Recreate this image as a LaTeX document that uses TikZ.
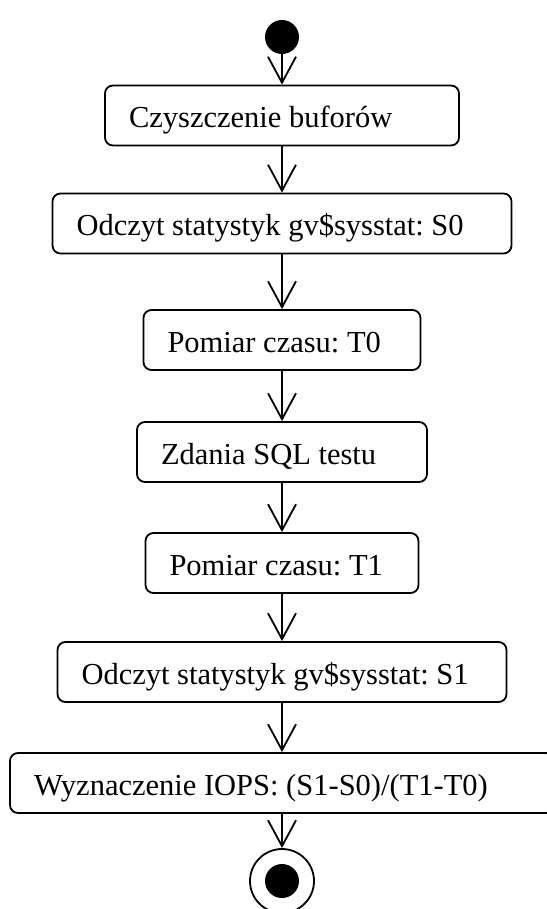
\documentclass[tikz,border=0pt]{standalone}
\usepackage{fontspec}
\setmainfont{Liberation Serif}
\usetikzlibrary{arrows.meta}
\newcommand{\acttext}[2]{\makebox[#1][l]{#2}}
\frenchspacing
\begin{document}
\begin{tikzpicture}[x=1pt,y=-1pt,
  act/.style={draw, rounded corners=8pt, line width=1.8pt, minimum height=60pt,
    inner xsep=24pt, inner ysep=0pt, text height=25pt, text depth=0pt,
    font=\fontsize{30.5pt}{36pt}\selectfont\frenchspacing},
  flow/.style={line width=1.8pt, -{Straight Barb[length=26pt,width=28pt]}},
  startnode/.style={circle, fill=black, minimum size=34pt, inner sep=0pt},
  endouter/.style={circle, draw, line width=1.8pt, minimum size=64pt, inner sep=0pt},
  endinner/.style={circle, fill=black, minimum size=34pt, inner sep=0pt}]
\useasboundingbox (0,0) rectangle (546,909);
\node[startnode] (start) at (282,37) {};
\node[act] (b1) at (282,115.5) {\acttext{306pt}{Czyszczenie buforów}};
\node[act] (b2) at (282,223.5) {\acttext{411pt}{Odczyt statystyk gv\$sysstat: S0}};
\node[act] (b3) at (282,340) {\acttext{229pt}{Pomiar czasu: T0}};
\node[act] (b4) at (282,452) {\acttext{242pt}{Zdania SQL testu}};
\node[act] (b5) at (282,563) {\acttext{225pt}{Pomiar czasu: T1}};
\node[act] (b6) at (282,672) {\acttext{401pt}{Odczyt statystyk gv\$sysstat: S1}};
\node[act] (b7) at (282,783) {\acttext{496pt}{Wyznaczenie IOPS: (S1-S0)/(T1-T0)}};
\node[endouter] (endo) at (282,881) {};
\node[endinner] (endi) at (endo.center) {};
\draw[flow] (start.south) -- (b1.north);
\draw[flow] (b1.south) -- (b2.north);
\draw[flow] (b2.south) -- (b3.north);
\draw[flow] (b3.south) -- (b4.north);
\draw[flow] (b4.south) -- (b5.north);
\draw[flow] (b5.south) -- (b6.north);
\draw[flow] (b6.south) -- (b7.north);
\draw[flow] (b7.south) -- (endo.north);
\end{tikzpicture}
\end{document}
